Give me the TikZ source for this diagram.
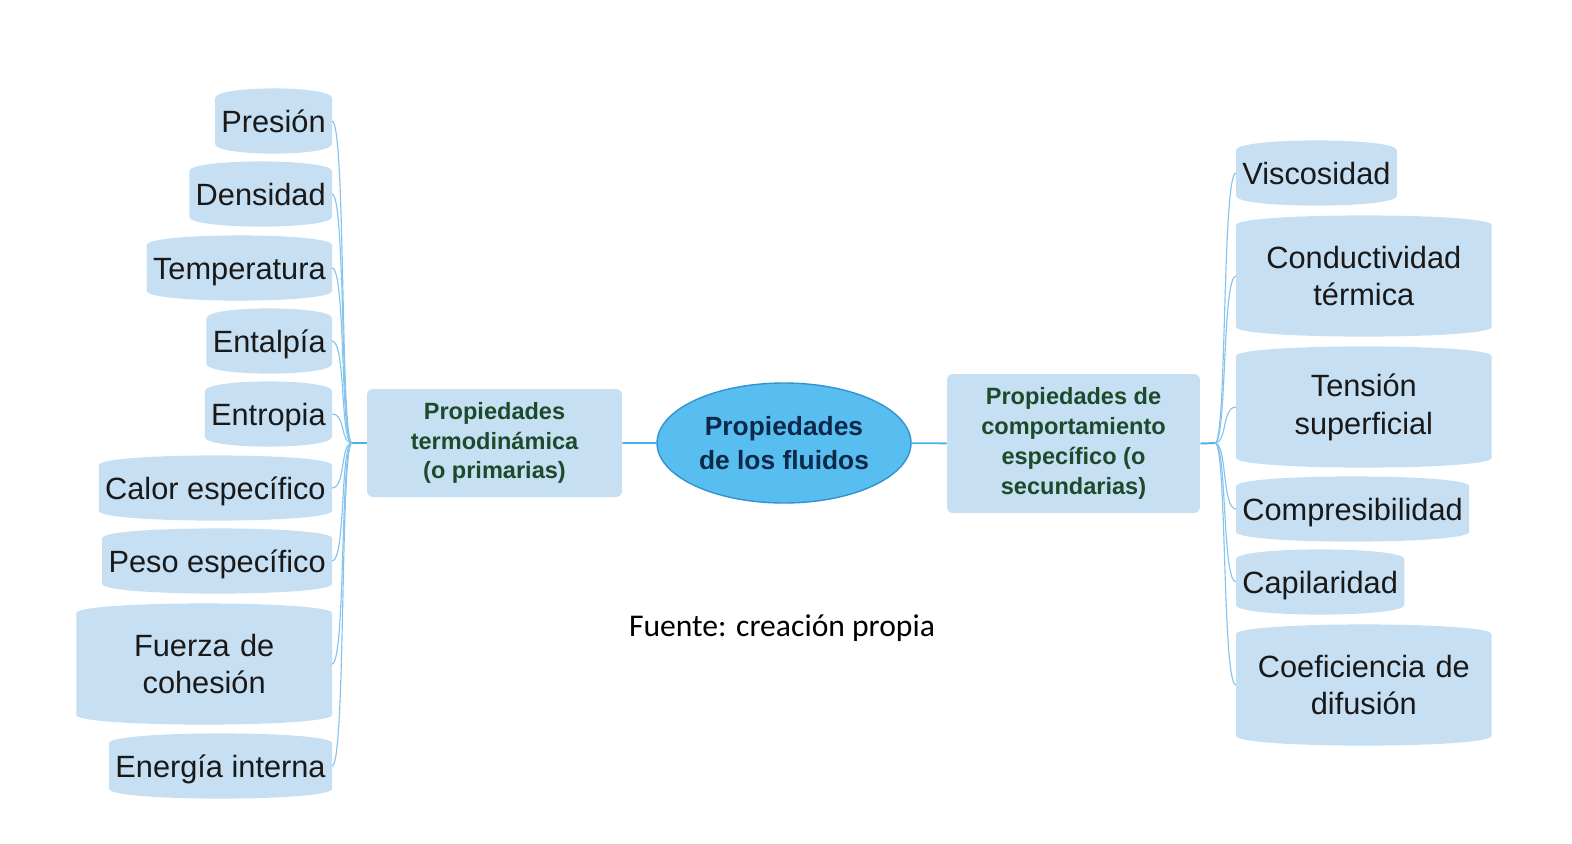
\documentclass[tikz,border=0pt]{standalone}
\usepackage{fontspec}
\setmainfont{Liberation Sans}
\newfontfamily\capfont{Carlito}
\usetikzlibrary{shapes.geometric,backgrounds}

\definecolor{leafc}{HTML}{C6DFF2}
\definecolor{midtxt}{HTML}{1E4A2C}
\definecolor{ellc}{HTML}{57BEEF}
\definecolor{elld}{HTML}{3392D4}
\definecolor{elltxt}{HTML}{0D2848}
\definecolor{linec}{HTML}{4DAEEA}
\definecolor{thinc}{HTML}{86C4EF}

\begin{document}
\begin{tikzpicture}[x=0.02cm,y=-0.02cm,
    base/.style={inner xsep=1.2mm,inner ysep=0pt,
      font=\fontsize{17.5}{21.5}\selectfont,text=black!90},
    leaf/.style={base,minimum height=9mm,text height=12.6pt,text depth=0pt},
    two/.style={base,minimum height=20.2mm,text width=48.6mm,align=center},
    mid/.style={fill=leafc,rounded corners=1.2mm,inner sep=0pt,align=center,
      text=midtxt,font=\bfseries\fontsize{13.4}{17}\selectfont},
    main/.style={ellipse,fill=ellc,draw=elld,line width=0.8pt,inner sep=0pt,
      minimum width=50.8mm,minimum height=24mm,align=center,text=elltxt,
      font=\bfseries\fontsize{15}{19.3}\selectfont},
    thick line/.style={draw=linec,line width=1.1pt},
    thin line/.style={draw=thinc,line width=0.65pt}]

  \useasboundingbox (0,0) rectangle (1572,843);

  % centre
  \node[main] (pf) at (784,443) {Propiedades\\de los fluidos};
  \node[mid,minimum width=51mm,minimum height=21.6mm] (mt) at (494.5,443)
    {Propiedades\\termodinámica\\(o primarias)};
  \node[mid,minimum width=50.6mm,minimum height=27.8mm] (mc) at (1073.5,443.5)
    {Propiedades de\\comportamiento\\específico (o\\secundarias)};

  \coordinate (fl) at (352,443);
  \coordinate (fr) at (1215,443);

  % left leaves
  \node[leaf,anchor=east] (l1) at (332,121) {Presión};
  \node[leaf,anchor=east] (l2) at (332,194) {Densidad};
  \node[leaf,anchor=east] (l3) at (332,268) {Temperatura};
  \node[leaf,anchor=east] (l4) at (332,341) {Entalpía};
  \node[leaf,anchor=east] (l5) at (332,414) {Entropia};
  \node[leaf,anchor=east] (l6) at (332,488) {Calor específico};
  \node[leaf,anchor=east] (l7) at (332,561) {Peso específico};
  \node[two,anchor=east]  (l8) at (332,664) {Fuerza de\\cohesión};
  \node[leaf,anchor=east] (l9) at (332,766) {Energía interna};

  % right leaves
  \node[leaf,anchor=west] (r1) at (1236,173) {Viscosidad};
  \node[two,anchor=west]  (r2) at (1236,276) {Conductividad\\térmica};
  \node[two,anchor=west]  (r3) at (1236,407) {Tensión\\superficial};
  \node[leaf,anchor=west] (r4) at (1236,509) {Compresibilidad};
  \node[leaf,anchor=west] (r5) at (1236,582) {Capilaridad};
  \node[two,anchor=west]  (r6) at (1236,685) {Coeficiencia de\\difusión};

  \node[font=\capfont\fontsize{18}{22}\selectfont] (src) at (782,628)
    {Fuente: creación propia};

  \begin{scope}[on background layer]
    \foreach \n in {l1,l2,l3,l4,l5,l6,l7,l8,l9,r1,r2,r3,r4,r5,r6}
      \fill[leafc] (\n.south west) -- (\n.north west)
        .. controls +(0,-13) and +(0,-13) .. (\n.north east)
        -- (\n.south east) .. controls +(0,13) and +(0,13) .. (\n.south west) -- cycle;
  \end{scope}

  \draw[thick line] (mt) -- (pf) -- (mc);
  \draw[thick line] (mt.west) -- (fl);
  \draw[thick line] (mc.east) -- (fr);

  \foreach \i in {1,...,9}
    \draw[thin line] (fl) .. controls +(-12,0) and +(14,0) .. (l\i.east);
  \foreach \i in {1,...,6}
    \draw[thin line] (fr) .. controls +(12,0) and +(-14,0) .. (r\i.west);

\end{tikzpicture}
\end{document}
